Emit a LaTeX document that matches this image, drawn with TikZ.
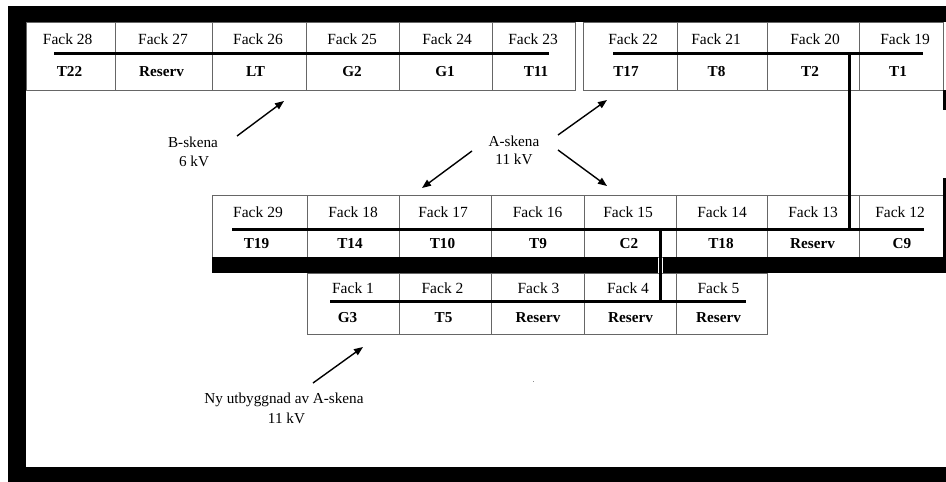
\documentclass[tikz,border=0pt]{standalone}
\usepackage{fontspec}
\setmainfont{Liberation Serif}
\usetikzlibrary{arrows.meta}
\begin{document}
\begin{tikzpicture}[x=1pt,y=-1pt,
  cell/.style={draw=black!60, line width=0.9pt},
  bus/.style={line width=3pt, black},
  fk/.style={anchor=base, inner sep=0pt, font=\fontsize{15.5}{18}\selectfont},
  val/.style={anchor=base, inner sep=0pt, font=\fontsize{15.2}{18}\selectfont\bfseries},
  lbl/.style={anchor=base, inner sep=0pt, font=\fontsize{15.2}{18}\selectfont},
  arr/.style={line width=1.4pt, -{Triangle[length=9pt,width=7pt]}},
  blk/.style={fill=black}]
\useasboundingbox[fill=white] (0,0) rectangle (946,482);

% ---- cell borders ----
% top row, left group
\draw[cell] (26,22) rectangle (575,90);
\foreach \x in {115,212,306,399,492} \draw[cell] (\x,22) -- (\x,90);
% top row, right group
\draw[cell] (583,22) rectangle (943,90);
\foreach \x in {677,767,859} \draw[cell] (\x,22) -- (\x,90);
% middle row
\draw[cell] (212,195) rectangle (943,257);
\foreach \x in {307,399,491,584,676,767,859} \draw[cell] (\x,195) -- (\x,257);
% bottom row
\draw[cell] (307,273) rectangle (767,334);
\foreach \x in {399,491,584,676} \draw[cell] (\x,273) -- (\x,334);

% ---- frame ----
\fill[blk] (8,6) rectangle (946,22);
\fill[blk] (8,6) rectangle (26,467);
\fill[blk] (8,467) rectangle (946,482);
\fill[blk] (943,90) rectangle (946,110);
\fill[blk] (943,178) rectangle (946,257);
% middle black band with a gap
\fill[blk] (212,257) rectangle (657.5,273);
\fill[blk] (662.5,257) rectangle (946,273);

% ---- bus bars ----
\coordinate (bl1) at (54,53.5);   \coordinate (bl2) at (549,53.5);
\coordinate (br1) at (613,53.5);  \coordinate (br2) at (923,53.5);
\coordinate (bm1) at (232,229);   \coordinate (bm2) at (924,229);
\coordinate (bb1) at (330,301.5); \coordinate (bb2) at (746,301.5);
\coordinate (vt) at (849.3,53.5); \coordinate (vtm) at (849.3,229);
\coordinate (vm) at (660.5,229);  \coordinate (vmb) at (660.5,301.5);
\draw[bus] (bl1) -- (bl2);
\draw[bus] (br1) -- (br2);
\draw[bus] (bm1) -- (bm2);
\draw[bus] (bb1) -- (bb2);
\draw[bus] (vt) -- (vtm);
\draw[bus] (vm) -- (vmb);

% ---- texts ----
\foreach \n/\fx/\v/\vx in {28/67.7/T22/69.5, 27/163/Reserv/161.5, 26/258/LT/255.5,
    25/352/G2/352, 24/447/G1/445, 23/533/T11/536,
    22/633/T17/626, 21/716/T8/716.5, 20/815/T2/810, 19/905/T1/898}{
  \node[fk] (f\n) at (\fx,44) {Fack \n};
  \node[val] (v\n) at (\vx,76) {\v};
}
\foreach \n/\fx/\v/\vx in {29/258/T19/256.5, 18/353/T14/350, 17/443/T10/442.5,
    16/537.5/T9/538, 15/628/C2/629, 14/722/T18/721, 13/813/Reserv/812.5, 12/900/C9/902}{
  \node[fk] (f\n) at (\fx,217) {Fack \n};
  \node[val] (v\n) at (\vx,248.5) {\v};
}
\foreach \n/\fx/\v/\vx in {1/353/G3/347.5, 2/442.5/T5/443.5, 3/538.5/Reserv/538,
    4/628/Reserv/630.5, 5/718.5/Reserv/718.5}{
  \node[fk] (f\n) at (\fx,293) {Fack \n};
  \node[val] (v\n) at (\vx,322.5) {\v};
}

% ---- labels ----
\node[lbl] (bsk) at (193,147) {B-skena};
\node[lbl] (bskv) at (194,166) {6 kV};
\node[lbl] (ask) at (514,146) {A-skena};
\node[lbl] (askv) at (514,164) {11 kV};
\node[lbl] (ny) at (284,403) {Ny utbyggnad av A-skena};
\node[lbl] (nyv) at (286.5,423) {11 kV};

% ---- arrows ----
\coordinate (a1s) at (237,136); \coordinate (a1e) at (284,101);
\coordinate (a2s) at (558,135); \coordinate (a2e) at (607,100);
\coordinate (a3s) at (472,151); \coordinate (a3e) at (422,188);
\coordinate (a4s) at (558,150); \coordinate (a4e) at (607,186);
\coordinate (a5s) at (313,383); \coordinate (a5e) at (363,347);
\draw[arr] (a1s) -- (a1e);
\draw[arr] (a2s) -- (a2e);
\draw[arr] (a3s) -- (a3e);
\draw[arr] (a4s) -- (a4e);
\draw[arr] (a5s) -- (a5e);

% stray dot
\fill[black!45] (532.5,380.5) rectangle (534,382);
\end{tikzpicture}
\end{document}
